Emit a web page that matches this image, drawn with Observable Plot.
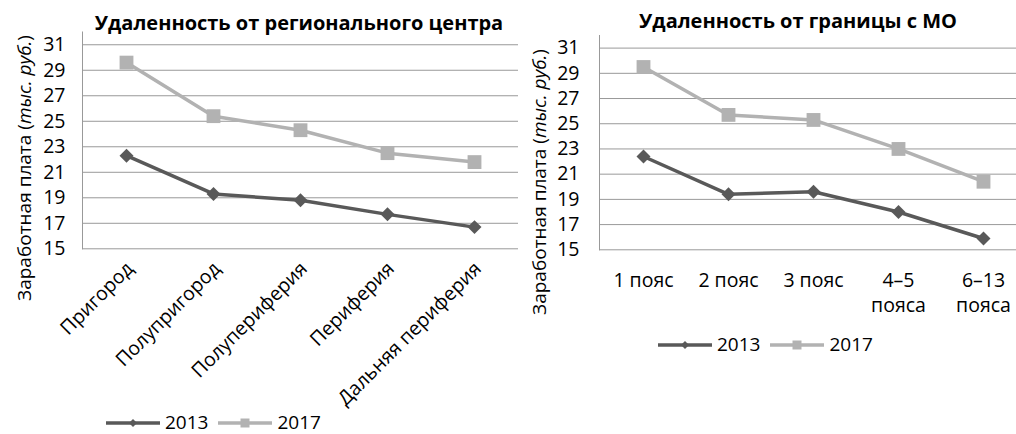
<!DOCTYPE html>
<html><head><meta charset="utf-8">
<script src="https://cdn.jsdelivr.net/npm/d3@7"></script>
<script src="https://cdn.jsdelivr.net/npm/@observablehq/plot@0.6"></script>
<style>
body{margin:0;background:#fff;font-family:"Open Sans",sans-serif;color:#000;}
#root{position:relative;width:1016px;height:434px;overflow:hidden;}
.abs{position:absolute;}
.title{font-weight:bold;font-size:20px;white-space:nowrap;transform:translateX(-50%);line-height:1;}
.ylab{font-size:19px;white-space:nowrap;transform:translate(-50%,-50%) rotate(-90deg);line-height:1;}
.legend{font-size:19px;display:flex;align-items:center;line-height:1;}
.legend span{margin:0 10px 0 5px;}
</style></head><body><div id="root"></div>
<script>
const leftCats = ["Пригород","Полупригород","Полупериферия","Периферия","Дальняя периферия"];
const left2013 = [22.3,19.3,18.8,17.7,16.7];
const left2017 = [29.6,25.4,24.3,22.5,21.8];
const rightCats = ["1 пояс","2 пояс","3 пояс","4–5 пояса","6–13 пояса"];
const rightTickLabels = ["1 пояс","2 пояс","3 пояс","4–5\nпояса","6–13\nпояса"];
const right2013 = [22.4,19.4,19.6,18.0,15.9];
const right2017 = [29.5,25.7,25.3,23.0,20.4];
const yTicks = [15,17,19,21,23,25,27,29,31];
const years = ["2013","2017"];
const colors = ["#595959","#b2b2b2"];
const leftTitle = "Удаленность от регионального центра";
const rightTitle = "Удаленность от границы с МО";

const root = document.getElementById("root");

function chart({cats, v13, v17, width, marginLeft, marginTop, marginBottom, xEnd, tickPadding, xLabelMarks}) {
  const r13 = cats.map((c,i)=>({cat:c, year:"2013", value:v13[i]}));
  const r17 = cats.map((c,i)=>({cat:c, year:"2017", value:v17[i]}));
  return Plot.plot({
    width, height:434, marginLeft, marginRight:0, marginTop, marginBottom,
    style:{fontFamily:"Open Sans", fontSize:"19px", color:"#000", background:"transparent", overflow:"visible"},
    x:{type:"point", domain:cats, padding:0.5, range:[marginLeft, xEnd], axis:null},
    y:{domain:[15,32], axis:null},
    marks:[
      Plot.gridY(yTicks, {stroke:"#999", strokeOpacity:1, strokeWidth:1}),
      Plot.frame({anchor:"left", stroke:"#999"}),
      Plot.axisY(yTicks, {tickSize:0, tickPadding, fontSize:19.5, label:null}),
      Plot.line(r13, {x:"cat", y:"value", stroke:colors[0], strokeWidth:3.5}),
      Plot.line(r17, {x:"cat", y:"value", stroke:colors[1], strokeWidth:3.5}),
      Plot.dot(r13, {x:"cat", y:"value", symbol:"diamond2", fill:colors[0], r:6.3}),
      Plot.dot(r17, {x:"cat", y:"value", symbol:"square", fill:colors[1], r:7.8}),
      ...xLabelMarks
    ]
  });
}

function place(el, left, top) {
  const d = document.createElement("div");
  d.className = "abs";
  d.style.left = left + "px";
  d.style.top = top + "px";
  d.appendChild(el);
  root.appendChild(d);
  return d;
}

const leftChart = chart({
  cats: leftCats, v13: left2013, v17: left2017, width: 518,
  marginLeft: 82, marginTop: 31.5, marginBottom: 185.7, xEnd: 518, tickPadding: 17,
  xLabelMarks: [Plot.text(leftCats, {x: d=>d, frameAnchor:"bottom", rotate:-45, textAnchor:"end", dx:8, dy:21, fontSize:19.5})]
});
place(leftChart, 0, 0);

const rightChart = chart({
  cats: rightCats, v13: right2013, v17: right2017, width: 498,
  marginLeft: 81, marginTop: 35, marginBottom: 184.7, xEnd: 508, tickPadding: 20,
  xLabelMarks: [Plot.text(rightTickLabels, {x: (d,i)=>rightCats[i], text: d=>d, frameAnchor:"bottom", lineAnchor:"top", dy:20, lineHeight:1.27, fontSize:19.5})]
});
place(rightChart, 518, 0);

function title(text, cx, top) {
  const t = document.createElement("div");
  t.className = "abs title";
  t.textContent = text;
  t.style.left = cx + "px";
  t.style.top = top + "px";
  root.appendChild(t);
}
title(leftTitle, 299, 13);
title(rightTitle, 798, 11);

function ylab(cx, cy) {
  const t = document.createElement("div");
  t.className = "abs ylab";
  t.innerHTML = "Заработная плата (<i>тыс. руб.</i>)";
  t.style.left = cx + "px";
  t.style.top = cy + "px";
  root.appendChild(t);
}
ylab(24, 168);
ylab(539, 182);

function swatch(i) {
  const ns = "http://www.w3.org/2000/svg";
  const s = document.createElementNS(ns, "svg");
  s.setAttribute("width", 54); s.setAttribute("height", 14);
  const l = document.createElementNS(ns, "line");
  l.setAttribute("x1", 0); l.setAttribute("x2", 54); l.setAttribute("y1", 7); l.setAttribute("y2", 7);
  l.setAttribute("stroke", colors[i]); l.setAttribute("stroke-width", 3.5);
  s.appendChild(l);
  const p = document.createElementNS(ns, "path");
  p.setAttribute("d", i === 0 ? "M27,3L31,7L27,11L23,7Z" : "M22.5,2.5H31.5V11.5H22.5Z");
  p.setAttribute("fill", colors[i]);
  s.appendChild(p);
  return s;
}
function legend(left, top) {
  const d = document.createElement("div");
  d.className = "abs legend";
  d.style.left = left + "px"; d.style.top = top + "px";
  years.forEach((y, i) => {
    d.appendChild(swatch(i));
    const sp = document.createElement("span");
    sp.textContent = y;
    d.appendChild(sp);
  });
  root.appendChild(d);
}
legend(106, 413);
legend(658, 335);
</script></body></html>
